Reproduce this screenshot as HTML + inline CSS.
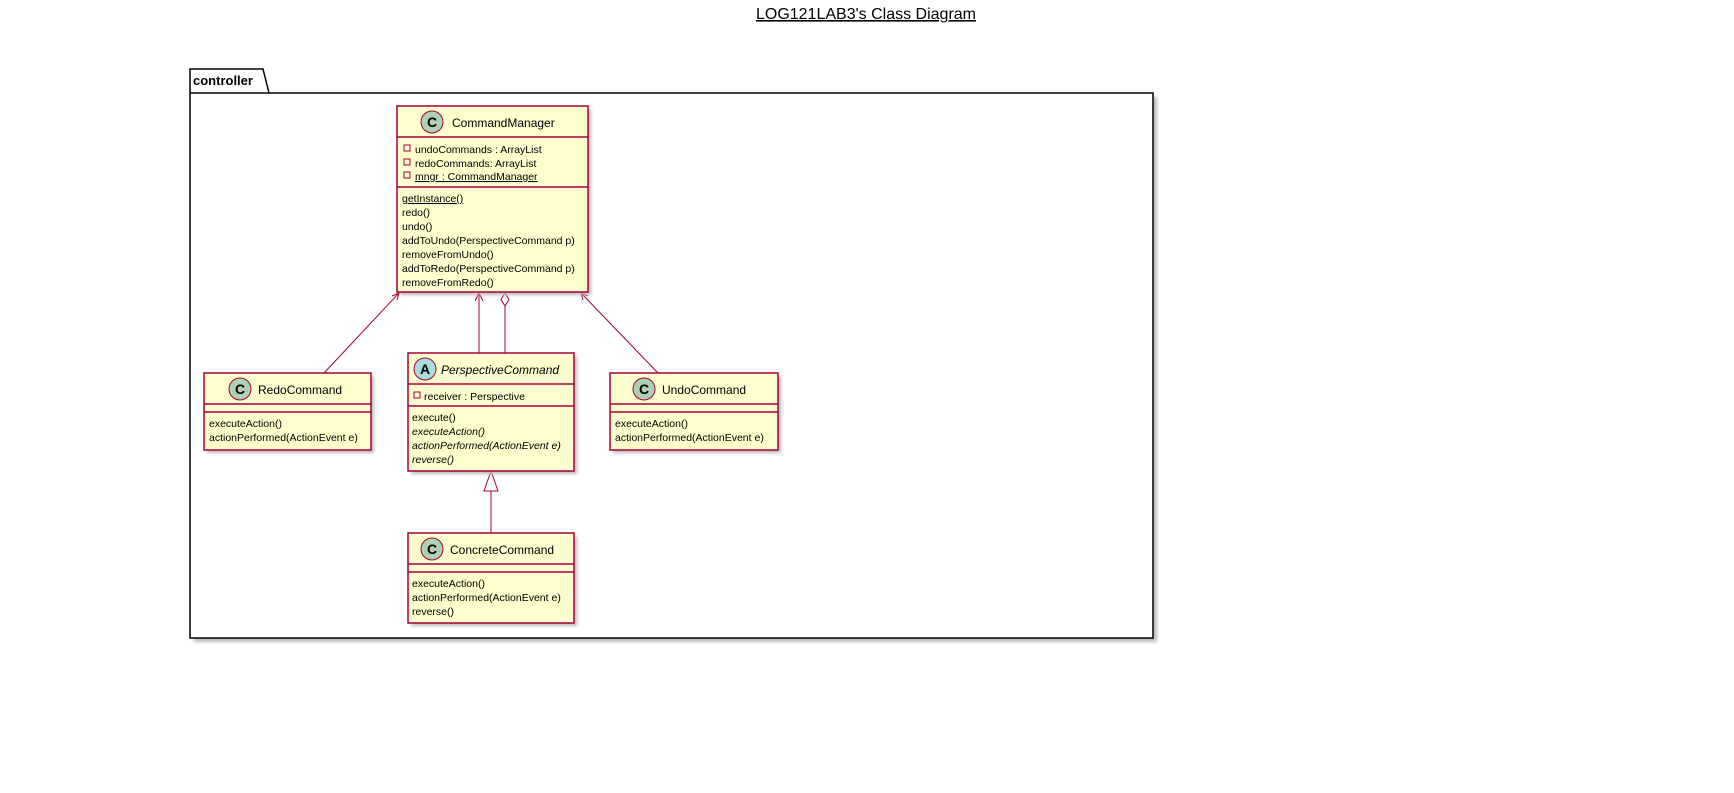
<!DOCTYPE html>
<html><head><meta charset="utf-8"><style>
html,body{margin:0;padding:0;background:#fff;}
svg{display:block;}
text{font-family:"Liberation Sans",sans-serif;fill:#000;}
.m{font-size:10.5px;}
.n{font-size:12px;}
</style></head><body>
<svg width="1734" height="793" viewBox="0 0 1734 793" xmlns="http://www.w3.org/2000/svg">
<defs>
<filter id="sh" x="-10%" y="-10%" width="130%" height="130%"><feGaussianBlur stdDeviation="1.5"/></filter>
</defs>
<text x="866" y="19" text-anchor="middle" style="font-size:16px" text-decoration="underline">LOG121LAB3's Class Diagram</text>

<!-- package -->
<rect x="194" y="97" width="963" height="545" fill="#bbb" filter="url(#sh)"/>
<path d="M190 93 L190 69 L263 69 L269 93 L1153 93 L1153 638 L190 638 Z" fill="#fff" stroke="#000" stroke-width="1.5"/>
<line x1="190" y1="93" x2="269" y2="93" stroke="#000" stroke-width="1.5"/>
<text x="193" y="85" style="font-size:13px;font-weight:bold">controller</text>

<!-- connectors -->
<g stroke="#A80036" stroke-width="1" fill="none">
<line x1="324" y1="373" x2="399" y2="293"/>
<polyline points="392,296 399,293 397,300"/>
<line x1="479" y1="353" x2="479" y2="293"/>
<polyline points="475,301 479,293 483,301"/>
<line x1="505" y1="353" x2="505" y2="306"/>
<polygon points="505,293 509,299.5 505,306 501,299.5" fill="#fff"/>
<line x1="658" y1="373" x2="581" y2="293"/>
<polyline points="583,300 581,293 588,296"/>
<line x1="491" y1="533" x2="491" y2="491"/>
<polygon points="491,471 498,491 484,491" fill="#fff"/>
</g>

<!-- CommandManager -->
<g>
<rect x="400" y="109" width="191" height="186" fill="#bbb" filter="url(#sh)"/>
<rect x="397" y="106" width="191" height="186" fill="#FEFECE" stroke="#A80036" stroke-width="1.5"/>
<line x1="397" y1="137" x2="588" y2="137" stroke="#A80036" stroke-width="1.5"/>
<line x1="397" y1="187" x2="588" y2="187" stroke="#A80036" stroke-width="1.5"/>
<circle cx="432" cy="122" r="11" fill="#ADD1B2" stroke="#A80036"/>
<text x="432" y="127" text-anchor="middle" style="font-size:14px;font-weight:bold">C</text>
<text x="452" y="127" class="n">CommandManager</text>
<g fill="none" stroke="#A80036"><rect x="404" y="145" width="6" height="6"/><rect x="404" y="159" width="6" height="6"/><rect x="404" y="172" width="6" height="6"/></g>
<text x="415" y="153" class="m">undoCommands : ArrayList</text>
<text x="415" y="167" class="m">redoCommands: ArrayList</text>
<text x="415" y="180" class="m" text-decoration="underline">mngr : CommandManager</text>
<text x="402" y="202" class="m" text-decoration="underline">getInstance()</text>
<text x="402" y="216" class="m">redo()</text>
<text x="402" y="230" class="m">undo()</text>
<text x="402" y="244" class="m">addToUndo(PerspectiveCommand p)</text>
<text x="402" y="258" class="m">removeFromUndo()</text>
<text x="402" y="272" class="m">addToRedo(PerspectiveCommand p)</text>
<text x="402" y="286" class="m">removeFromRedo()</text>
</g>

<!-- RedoCommand -->
<g>
<rect x="207" y="376" width="167" height="77" fill="#bbb" filter="url(#sh)"/>
<rect x="204" y="373" width="167" height="77" fill="#FEFECE" stroke="#A80036" stroke-width="1.5"/>
<line x1="204" y1="404" x2="371" y2="404" stroke="#A80036" stroke-width="1.5"/>
<line x1="204" y1="412" x2="371" y2="412" stroke="#A80036" stroke-width="1.5"/>
<circle cx="240" cy="389" r="11" fill="#ADD1B2" stroke="#A80036"/>
<text x="240" y="394" text-anchor="middle" style="font-size:14px;font-weight:bold">C</text>
<text x="258" y="394" class="n">RedoCommand</text>
<text x="209" y="427" class="m">executeAction()</text>
<text x="209" y="441" class="m">actionPerformed(ActionEvent e)</text>
</g>

<!-- PerspectiveCommand -->
<g>
<rect x="411" y="356" width="166" height="118" fill="#bbb" filter="url(#sh)"/>
<rect x="408" y="353" width="166" height="118" fill="#FEFECE" stroke="#A80036" stroke-width="1.5"/>
<line x1="408" y1="384" x2="574" y2="384" stroke="#A80036" stroke-width="1.5"/>
<line x1="408" y1="406" x2="574" y2="406" stroke="#A80036" stroke-width="1.5"/>
<circle cx="425" cy="369" r="11" fill="#A9DCDF" stroke="#A80036"/>
<text x="425" y="374" text-anchor="middle" style="font-size:14px;font-weight:bold">A</text>
<text x="441" y="374" class="n" font-style="italic">PerspectiveCommand</text>
<rect x="414" y="392" width="6" height="6" fill="none" stroke="#A80036"/>
<text x="424" y="400" class="m">receiver : Perspective</text>
<text x="412" y="421" class="m">execute()</text>
<text x="412" y="435" class="m" font-style="italic">executeAction()</text>
<text x="412" y="449" class="m" font-style="italic">actionPerformed(ActionEvent e)</text>
<text x="412" y="463" class="m" font-style="italic">reverse()</text>
</g>

<!-- UndoCommand -->
<g>
<rect x="613" y="376" width="168" height="77" fill="#bbb" filter="url(#sh)"/>
<rect x="610" y="373" width="168" height="77" fill="#FEFECE" stroke="#A80036" stroke-width="1.5"/>
<line x1="610" y1="404" x2="778" y2="404" stroke="#A80036" stroke-width="1.5"/>
<line x1="610" y1="412" x2="778" y2="412" stroke="#A80036" stroke-width="1.5"/>
<circle cx="644" cy="389" r="11" fill="#ADD1B2" stroke="#A80036"/>
<text x="644" y="394" text-anchor="middle" style="font-size:14px;font-weight:bold">C</text>
<text x="662" y="394" class="n">UndoCommand</text>
<text x="615" y="427" class="m">executeAction()</text>
<text x="615" y="441" class="m">actionPerformed(ActionEvent e)</text>
</g>

<!-- ConcreteCommand -->
<g>
<rect x="411" y="536" width="166" height="90" fill="#bbb" filter="url(#sh)"/>
<rect x="408" y="533" width="166" height="90" fill="#FEFECE" stroke="#A80036" stroke-width="1.5"/>
<line x1="408" y1="564" x2="574" y2="564" stroke="#A80036" stroke-width="1.5"/>
<line x1="408" y1="572" x2="574" y2="572" stroke="#A80036" stroke-width="1.5"/>
<circle cx="432" cy="549" r="11" fill="#ADD1B2" stroke="#A80036"/>
<text x="432" y="554" text-anchor="middle" style="font-size:14px;font-weight:bold">C</text>
<text x="450" y="554" class="n">ConcreteCommand</text>
<text x="412" y="587" class="m">executeAction()</text>
<text x="412" y="601" class="m">actionPerformed(ActionEvent e)</text>
<text x="412" y="615" class="m">reverse()</text>
</g>
</svg>
</body></html>
